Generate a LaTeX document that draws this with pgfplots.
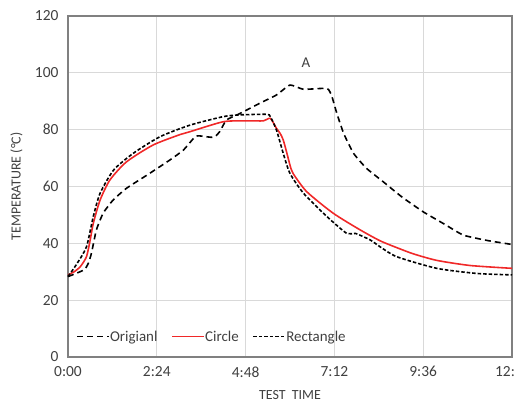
\documentclass[border=0pt]{standalone}
\usepackage{fontspec}
\setmainfont{Carlito}
\usepackage{pgfplots}
\pgfplotsset{compat=1.18}

\definecolor{gridgray}{RGB}{217,217,217}
\definecolor{axisgray}{RGB}{128,128,128}
\definecolor{txtgray}{RGB}{64,64,64}
\definecolor{circred}{RGB}{240,40,40}

\begin{document}
\begin{tikzpicture}
\clip (-68bp,-50bp) rectangle (447bp,357bp);
\begin{axis}[
  scale only axis, width=444bp, height=341bp, at={(0,0)}, anchor=origin,
  xmin=0, xmax=720, ymin=0, ymax=120,
  xtick={0,144,288,432,576,720},
  xticklabels={0:00,2:24,4:48,7:12,9:36,{12:\hspace*{14bp}}},
  ytick={0,20,40,60,80,100,120},
  major tick length=0pt,
  xmajorgrids, ymajorgrids, grid style={gridgray, line width=0.8pt},
  axis line style={axisgray, line width=1.2pt},
  tick label style={font=\fontsize{15.5}{18}\selectfont, text=txtgray},
  /pgf/number format/assume math mode=true,
  xticklabel style={yshift=-6bp},
  yticklabel style={xshift=-6bp},
  label style={font=\fontsize{14}{17}\selectfont, text=txtgray},
  xlabel={TEST\ \ TIME}, ylabel={TEMPERATURE (°C)},
  xlabel style={at={(0.5,0)}, anchor=north, yshift=-30bp},
  ylabel style={at={(0,0.5)}, anchor=south, yshift=42bp},
  legend columns=3,
  legend style={at={(0.012,0.03)}, anchor=south west, draw=none, fill=none,
    font=\fontsize{15}{18}\selectfont, text=txtgray,
    /tikz/every even column/.append style={column sep=12bp},
    /tikz/every odd column/.append style={column sep=-2bp}},
  legend image code/.code={\draw[#1] (0bp,0bp) -- (32bp,0bp);},
  clip=false,
]
\addplot[black, line width=1.6pt, dash pattern=on 6bp off 4bp, smooth, tension=0.3] coordinates {
(0,28.3) (14,29.5) (27,30.8) (33,33) (38,36.5) (46,44.7) (57,50.6) (73,55.2)
(95,59.4) (128,64) (165,69.3) (187,72.8) (206,77.5) (214,77.8) (236,77.3)
(246,79.3) (257,83.4) (279,85.7) (311,89.3) (338,92.2) (360,95.7) (382,94.2)
(420,94.5) (428,91.6) (436,85.7) (447,78.7) (463,71.7) (484,66.4) (511,61.7)
(541,56.4) (576,51.1) (610,46.8) (641,42.9) (680,41) (720,39.6)};
\addlegendentry{Origianl}
\addplot[circred, line width=1.6pt, smooth, tension=0.4] coordinates {
(0,28.9) (10,30) (20,31.8) (30,35.3) (36,41.2) (41,47) (52,55.2) (68,62.3)
(95,68.7) (138,74.6) (182,78.3) (198,79.3) (252,82.8) (290,83.1) (317,83.1)
(328,84) (338,80.5) (344,78.7) (349,76.4) (355,71.7) (360,67.5) (365,64.6)
(387,58.2) (430,50.6) (474,44.7) (506,40.9) (533,38.5) (560,36.3) (598,34)
(652,32.2) (720,31.2)};
\addlegendentry{Circle}
\addplot[black, line width=1.6pt, dash pattern=on 3.5bp off 2bp, smooth, tension=0.4] coordinates {
(0,28.3) (15,33) (30,38.8) (41,49.4) (52,57.6) (74,65.8) (106,71.7) (149,77.5)
(198,81.6) (252,84.6) (279,85.2) (322,85.4) (328,84.6) (338,79.9) (349,71.7)
(360,64.6) (382,57.6) (420,49.4) (452,43.5) (466,43.5) (490,41.2) (506,38.8)
(533,35.3) (598,31.2) (663,29.4) (720,28.9)};
\addlegendentry{Rectangle}
\node[font=\fontsize{15}{18}\selectfont, text=txtgray] at (axis cs:386,103.5) {A};
\end{axis}
\end{tikzpicture}
\end{document}
